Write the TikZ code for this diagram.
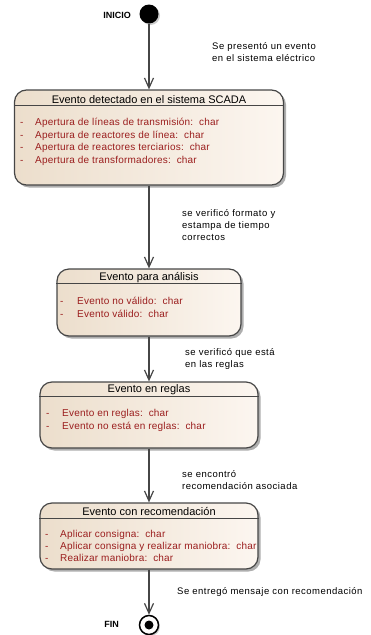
\documentclass[tikz,border=0pt]{standalone}
\usepackage{fontspec}
\setmainfont{Liberation Sans}
\newfontfamily\guardfont[LetterSpace=5]{Liberation Sans}
\newfontfamily\itemfont[LetterSpace=2]{Liberation Sans}
\usetikzlibrary{arrows.meta,shadows}

\definecolor{itemred}{RGB}{155,30,30}
\definecolor{boxtan}{RGB}{236,222,204}
\definecolor{boxlight}{RGB}{252,246,240}
\definecolor{edgegray}{RGB}{70,70,70}

\tikzset{
  statebox/.style={draw=edgegray, line width=1.2pt, rounded corners=12pt,
    left color=boxtan, right color=boxlight, inner sep=0pt,
    drop shadow={shadow xshift=2.5pt, shadow yshift=-2.5pt, fill=black!45, opacity=0.7}},
  boxtitle/.style={font=\fontsize{11}{12}\selectfont, inner sep=0pt},
  item/.style={anchor=base west, inner sep=0pt, text=itemred,
    font=\itemfont\fontsize{10}{12}\selectfont},
  guard/.style={anchor=west, inner sep=0pt, align=left,
    font=\guardfont\fontsize{9.5}{12}\selectfont},
  flow/.style={draw=edgegray, line width=1.3pt, -{Straight Barb[length=10pt,width=9pt,line width=1.2pt]}},
  tag/.style={anchor=east, inner sep=0pt, font=\fontsize{9}{10}\selectfont\bfseries}
}

\begin{document}
\begin{tikzpicture}[x=1pt,y=-1pt]
\useasboundingbox (0,0) rectangle (371,635);

% inicio
\node (inicio) [circle, fill=black, minimum size=19pt, inner sep=0pt,
  drop shadow={shadow xshift=1.5pt, shadow yshift=-1.5pt, fill=black!40}] at (149,14) {};
\node (tinicio) [tag] at (131,15) {INICIO};

% estados
\node (scada) [statebox, minimum width=269pt, minimum height=95pt] at (149,137.5) {};
\draw [edgegray, line width=1.1pt] ([yshift=-16pt]scada.north west) -- ([yshift=-16pt]scada.north east);
\node (tscada) [boxtitle] at (149,100) {Evento detectado en el sistema SCADA};
\foreach \t [count=\i] in {Apertura de líneas de transmisión:\ \ char,
    Apertura de reactores de línea:\ \ char,
    Apertura de reactores terciarios:\ \ char,
    Apertura de transformadores:\ \ char}{
  \node [item] at (20,113+12.5*\i) {-};
  \node [item] at (35,113+12.5*\i) {\t};
}

\node (analisis) [statebox, minimum width=184pt, minimum height=67pt] at (149,302.5) {};
\draw [edgegray, line width=1.1pt] ([yshift=-15pt]analisis.north west) -- ([yshift=-15pt]analisis.north east);
\node (tanalisis) [boxtitle] at (149,277.5) {Evento para análisis};
\foreach \t [count=\i] in {Evento no válido:\ \ char, Evento válido:\ \ char}{
  \node [item] at (60,292+12.5*\i) {-};
  \node [item] at (77,292+12.5*\i) {\t};
}

\node (reglas) [statebox, minimum width=218pt, minimum height=66pt] at (149,415) {};
\draw [edgegray, line width=1.1pt] ([yshift=-15pt]reglas.north west) -- ([yshift=-15pt]reglas.north east);
\node (treglas) [boxtitle] at (149,390) {Evento en reglas};
\foreach \t [count=\i] in {Evento en reglas:\ \ char, Evento no está en reglas:\ \ char}{
  \node [item] at (46,404+12.5*\i) {-};
  \node [item] at (62,404+12.5*\i) {\t};
}

\node (recomendacion) [statebox, minimum width=218pt, minimum height=66pt] at (149,536) {};
\draw [edgegray, line width=1.1pt] ([yshift=-16pt]recomendacion.north west) -- ([yshift=-16pt]recomendacion.north east);
\node (trecomendacion) [boxtitle] at (149,511.5) {Evento con recomendación};
\foreach \t [count=\i] in {Aplicar consigna:\ \ char,
    Aplicar consigna y realizar maniobra:\ \ char,
    Realizar maniobra:\ \ char}{
  \node [item] at (45,525.5+12*\i) {-};
  \node [item] at (60,525.5+12*\i) {\t};
}

% fin
\node (fin) [circle, draw=black, line width=1.5pt, fill=white!92!boxtan, minimum size=19pt, inner sep=0pt,
  drop shadow={shadow xshift=1.5pt, shadow yshift=-1.5pt, fill=black!40}] at (149,625) {};
\fill [black] (fin.center) circle (4.5pt);
\node (tfin) [tag] at (119,624) {FIN};

% transiciones
\draw [flow] (inicio) -- (scada);
\draw [flow] (scada) -- (analisis);
\draw [flow] (analisis) -- (reglas);
\draw [flow] (reglas) -- (recomendacion);
\draw [flow] (recomendacion) -- (fin);

\node (g1) [guard] at (212,52) {Se presentó un evento\\en el sistema eléctrico};
\node (g2) [guard] at (182,225) {se verificó formato y\\estampa de tiempo\\correctos};
\node (g3) [guard] at (185,359) {se verificó que está\\en las reglas};
\node (g4) [guard] at (182,480.5) {se encontró\\recomendación asociada};
\node (g5) [guard] at (177,592) {Se entregó mensaje con recomendación};

\end{tikzpicture}
\end{document}
